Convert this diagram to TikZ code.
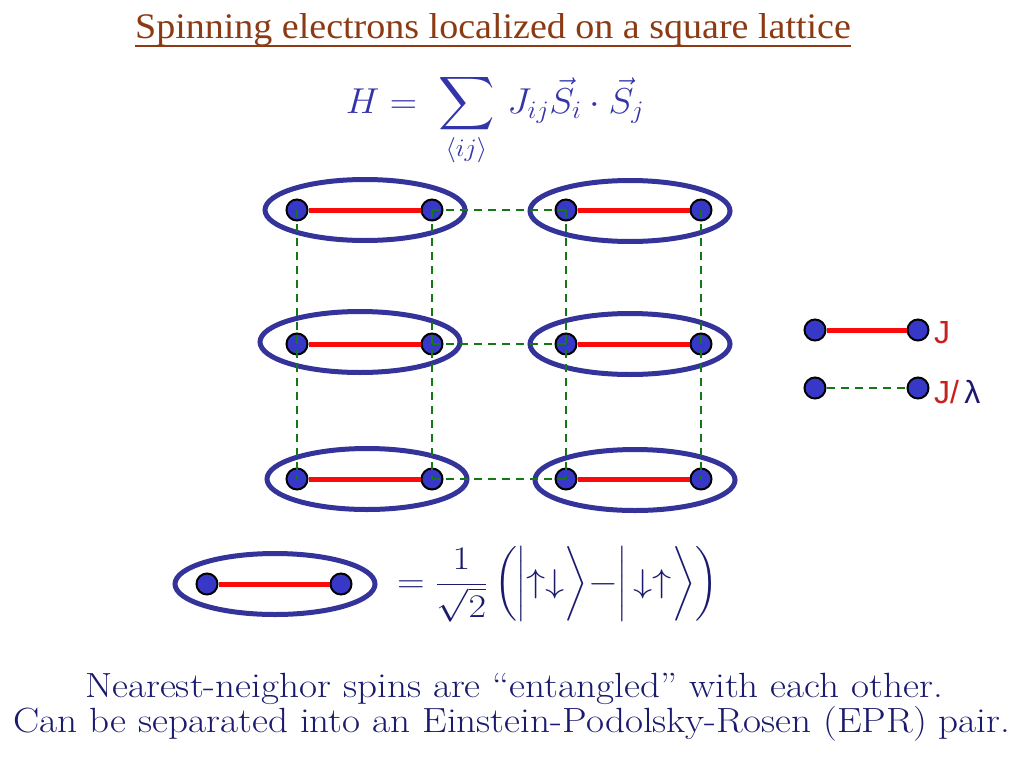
\RequirePackage{fix-cm}
\documentclass[tikz,border=0pt]{standalone}
\usepackage{amsmath}
\usepackage{exscale}
\usepackage{fontspec}
\newfontfamily\titlefont{Liberation Serif}
\newfontfamily\legfont{Liberation Sans}
\usetikzlibrary{shapes.geometric}
\definecolor{titlebrown}{RGB}{139,58,19}
\definecolor{eqblue}{RGB}{51,51,170}
\definecolor{navy}{RGB}{26,26,110}
\definecolor{ringblue}{RGB}{51,51,153}
\definecolor{spinblue}{RGB}{55,55,200}
\definecolor{bondred}{RGB}{250,10,10}
\definecolor{labred}{RGB}{200,32,30}
\definecolor{dashgreen}{RGB}{20,120,20}
\tikzset{
  spin/.style={circle, draw=black, line width=2pt, fill=spinblue, minimum size=21pt, inner sep=0pt},
  ring/.style={ellipse, draw=ringblue, line width=5pt, minimum width=200pt, minimum height=61pt, inner sep=0pt},
  bond/.style={draw=bondred, line width=5pt},
  weak/.style={draw=dashgreen, line width=2.5pt, dash pattern=on 8pt off 6pt},
  bottomtext/.style={text=navy, font=\fontsize{35}{38}\selectfont, inner sep=0pt, anchor=base},
}
\begin{document}
\begin{tikzpicture}[x=1pt,y=-1pt]
\useasboundingbox (0,0) rectangle (1024,768);
% title
\node[text=titlebrown, font=\titlefont\fontsize{36}{40}\selectfont, inner sep=0pt, anchor=base] (title) at (493,38) {\scalebox{1.056}[1]{Spinning electrons localized on a square lattice}};
\draw[titlebrown, line width=2.5pt] ([yshift=-8pt]title.base west) -- ([yshift=-8pt]title.base east);
% Hamiltonian
\node[text=eqblue, inner sep=0pt, anchor=base] (ham) at (495,113) {\fontsize{36}{40}\selectfont\scalebox{1.05}[1]{$\displaystyle H=\;\mathop{\vcenter{\hbox{\scalebox{1.5}{$\displaystyle\sum$}}}}\limits_{\langle ij\rangle}\, J_{ij}\vec S_i\cdot\vec S_j$}};
% rings
\node[ring] (e11) at (365,210) {};
\node[ring] (e12) at (630,211) {};
\node[ring] (e21) at (360,342) {};
\node[ring] (e22) at (630,344) {};
\node[ring] (e31) at (367,479) {};
\node[ring] (e32) at (635,480) {};
% spins
\foreach \r/\y in {1/210,2/344,3/479}{
  \node[spin] (s\r1) at (297,\y) {};
  \node[spin] (s\r2) at (432,\y) {};
  \node[spin] (s\r3) at (566,\y) {};
  \node[spin] (s\r4) at (701,\y) {};
  \draw[bond] (s\r1) -- (s\r2);
  \draw[bond] (s\r3) -- (s\r4);
}
% weak bonds
\foreach \r in {1,2,3}{
  \draw[weak] (s\r2.center) -- (s\r3.center);
}
\foreach \c in {1,2,3,4}{
  \draw[weak] (s1\c.center) -- (s3\c.center);
}
% legend
\node[spin] (l1a) at (815,330) {};
\node[spin] (l1b) at (918,330) {};
\draw[bond] (l1a) -- (l1b);
\node[spin] (l2a) at (815,388) {};
\node[spin] (l2b) at (918,388) {};
\draw[weak] (l2a) -- (l2b);
\node[anchor=west, text=labred, font=\legfont\fontsize{32}{36}\selectfont, inner sep=0pt] (lj) at (934,333) {J};
\node[anchor=west, text=labred, font=\legfont\fontsize{32}{36}\selectfont, inner sep=0pt] (ljl) at (934,392) {J/\,\textcolor{navy}{λ}};
% singlet
\node[ring] (ep) at (275,584) {};
\node[spin] (pa) at (207,584) {};
\node[spin] (pb) at (341,584) {};
\draw[bond] (pa) -- (pb);
\node[anchor=west, text=navy, inner sep=0pt] (sing) at (397,584) {\fontsize{33}{36}\selectfont\scalebox{1.16}[1]{$\displaystyle =\frac{1}{\sqrt{2}}\,\biggl(\biggl|{\uparrow}{\downarrow}\biggr\rangle{-}\biggl|\,{\downarrow}{\uparrow}\biggr\rangle\biggr)$}};
% bottom text
\node[bottomtext] (txt1) at (514,697) {\scalebox{1.12}[1]{Nearest-neighor spins are “entangled” with each other.}};
\node[bottomtext] (txt2) at (512,732) {\scalebox{1.12}[1]{Can be separated into an Einstein-Podolsky-Rosen (EPR) pair.}};
\end{tikzpicture}
\end{document}
